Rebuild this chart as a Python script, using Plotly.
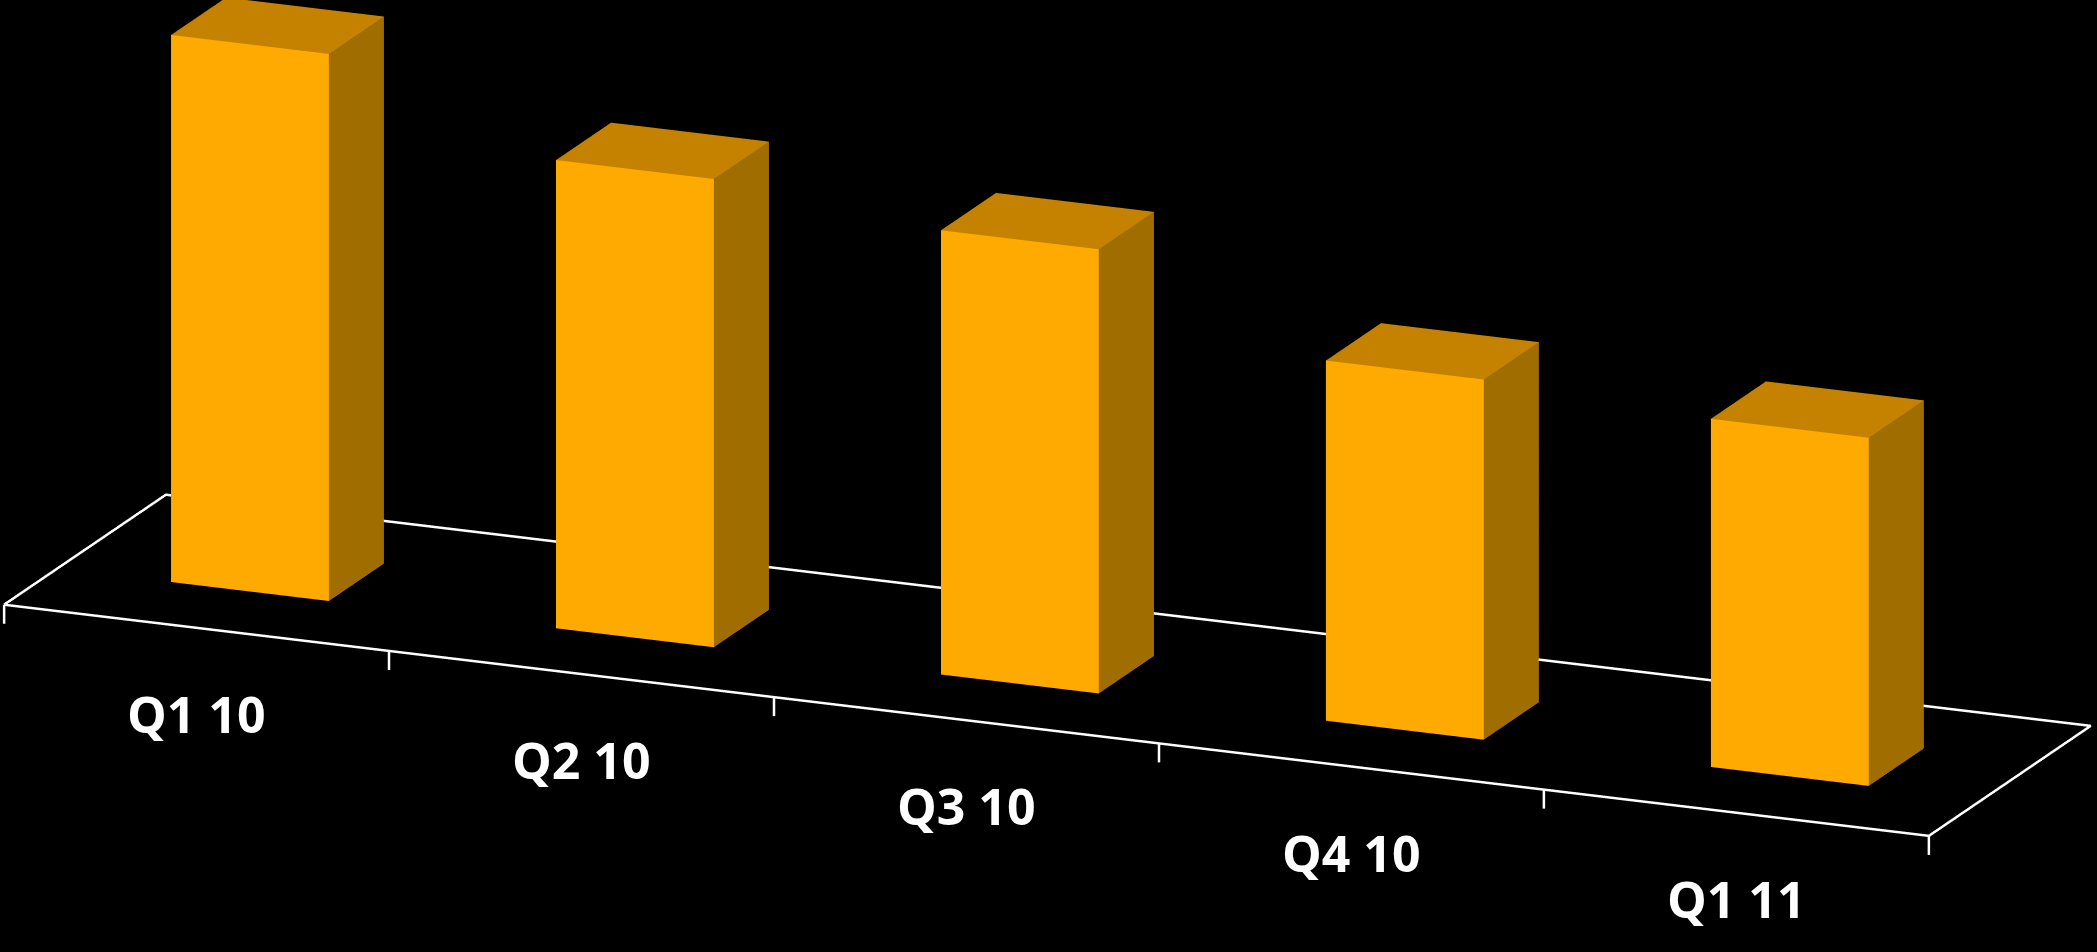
import math
import plotly.graph_objects as go

# ---- data ----
categories = ["Q1 10", "Q2 10", "Q3 10", "Q4 10", "Q1 11"]
values = [136.7, 117.0, 111.0, 90.0, 87.0]

# ---- style ----
FRONT = "#FFAA00"
TOP = "#C48200"
SIDE = "#A06E00"
bar_w = 0.41
bar_y0, bar_y1 = 0.33, 0.67
floor_depth = 1.0
unit = 100.0          # value units per category width
z_min, z_max = -10.0, 150.0
tick_len = 4.75

xs, ys, zs, I, J, K, fcol = [], [], [], [], [], [], []
for idx, v in enumerate(values):
    x0 = idx + 0.5 - bar_w / 2
    x1 = idx + 0.5 + bar_w / 2
    base = len(xs)
    corners = [(x0, bar_y0, 0), (x1, bar_y0, 0), (x1, bar_y1, 0), (x0, bar_y1, 0),
               (x0, bar_y0, v), (x1, bar_y0, v), (x1, bar_y1, v), (x0, bar_y1, v)]
    for cx, cy, cz in corners:
        xs.append(cx); ys.append(cy); zs.append(cz)
    faces = [((0, 1, 5, 4), FRONT), ((1, 2, 6, 5), SIDE), ((4, 5, 6, 7), TOP),
             ((3, 2, 6, 7), FRONT), ((0, 3, 7, 4), SIDE), ((0, 1, 2, 3), TOP)]
    for (a, b, c, d), col in faces:
        I += [base + a, base + a]
        J += [base + b, base + c]
        K += [base + c, base + d]
        fcol += [col, col]

fig = go.Figure()
fig.add_trace(go.Mesh3d(
    x=xs, y=ys, z=zs, i=I, j=J, k=K, facecolor=fcol, flatshading=True,
    lighting=dict(ambient=1.0, diffuse=0.0, specular=0.0, roughness=1.0, fresnel=0.0),
    hoverinfo="skip", showscale=False))

n = len(categories)
# floor outline
fig.add_trace(go.Scatter3d(
    x=[0, n, n, 0, 0], y=[0, 0, floor_depth, floor_depth, 0], z=[0, 0, 0, 0, 0],
    mode="lines", line=dict(color="white", width=5), hoverinfo="skip", showlegend=False))
# tick marks
for t in range(n + 1):
    fig.add_trace(go.Scatter3d(
        x=[t, t], y=[0, 0], z=[0, -tick_len], mode="lines",
        line=dict(color="white", width=5), hoverinfo="skip", showlegend=False))

# camera (orthographic: visible half-height = 1 normalized unit)
k = 0.8773
asp = dict(x=n * k, y=floor_depth * k, z=(z_max - z_min) / unit * k)
az, el, dist = math.radians(22.8), math.radians(16.6), 6.0
look = (2.713, 0.0, 63.5)
box_c = (n / 2, floor_depth / 2, (z_max + z_min) / 2)
center = dict(x=(look[0] - box_c[0]) * k,
              y=(look[1] - box_c[1]) * k,
              z=(look[2] - box_c[2]) / unit * k)
eye = dict(x=center["x"] + dist * math.cos(el) * math.sin(az),
           y=center["y"] - dist * math.cos(el) * math.cos(az),
           z=center["z"] + dist * math.sin(el))

annotations = [dict(x=i + 0.5, y=0, z=0, text=c, showarrow=False, yshift=-86,
                    font=dict(family="Open Sans", size=50, color="white", weight="bold"))
               for i, c in enumerate(categories)]

fig.update_layout(
    width=2097, height=952, margin=dict(l=0, r=0, t=0, b=0),
    paper_bgcolor="black", showlegend=False,
    scene=dict(
        xaxis=dict(range=[0, n], visible=False),
        yaxis=dict(range=[0, floor_depth], visible=False),
        zaxis=dict(range=[z_min, z_max], visible=False),
        aspectmode="manual", aspectratio=asp,
        bgcolor="black",
        camera=dict(eye=eye, center=center, up=dict(x=0, y=0, z=1),
                    projection=dict(type="orthographic")),
        annotations=annotations,
        domain=dict(x=[0, 1], y=[0, 1]),
    ),
)
fig.write_html("out.html", config={"displayModeBar": False},
               post_script="document.body.style.margin='0';document.body.style.background='black';document.body.style.overflow='hidden';")
